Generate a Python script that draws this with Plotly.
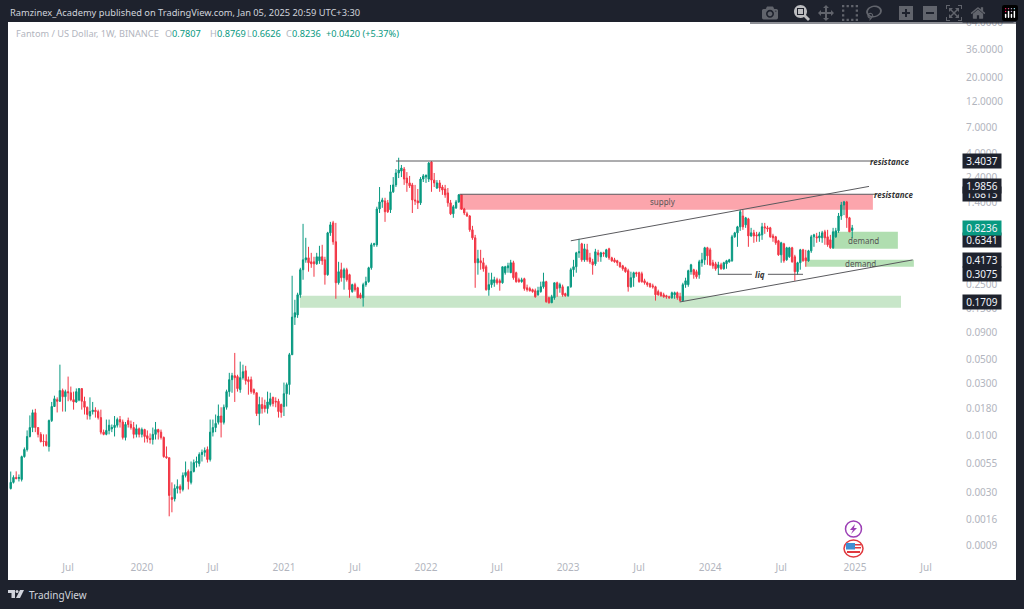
import numpy as np
import pandas as pd
import plotly.graph_objects as go

FONT = "Noto Sans"
BG_DARK = "#1E222D"
UP = "#089981"
DOWN = "#F23645"
TICK_GREY = "#B2B5BE"
LINE_GREY = "#5A5A5E"

LAST_WEEK = "2024-12-30"

opens = [
    .00326, .00372, .00413, .00404, .00396, .00642, .00747, .00985, .0119, .0163,
    .0119, .0103, .0089, .00885, .00796, .0138, .0186, .0215, .0208, .0261,
    .0229, .0255, .0249, .0215, .0205, .0213, .0272, .0208, .0183, .0152,
    .0167, .0172, .0167, .0147, .0108, .0103, .0112, .0116, .0119, .0125,
    .0141, .0134, .00965, .0138, .0127, .0119, .0103, .0116, .0103, .0114,
    .0100, .00945, .00923, .0103, .0114, .0108, .00965, .00642, .00628, .00270,
    .00262, .00327, .00341, .00320, .00431, .00469, .00372, .00469, .00566, .00554,
    .00672, .00703, .00747, .00604, .0108, .0119, .0133, .0152, .0133, .0183,
    .0255, .0329, .0358, .0351, .0266, .0343, .0397, .0329, .0329, .0266,
    .0249, .0160, .0194, .0190, .0178, .0194, .0226, .0208, .0208, .0194,
    .0186, .0244, .0296, .0558, .124, .130, .199, .339, .418, .436,
    .401, .401, .384, .410, .446, .418, .305, .741, .916, .613,
    .257, .339, .286, .339, .305, .213, .247, .231, .199, .187,
    .247, .263, .353, .575, .575, 1.23, 1.43, 1.46, 1.40, 1.21,
    1.77, 2.05, 2.64, 2.75, 2.87, 2.37, 2.14, 2.05, 1.49, 1.46,
    1.40, 2.32, 2.42, 2.32, 3.33, 2.27, 1.92, 2.14, 1.96, 1.88,
    1.73, 1.40, 1.11, 1.26, 1.43, 1.66, 1.23, 1.11, 1.06, .790,
    .667, .393, .410, .393, .361, .222, .247, .257, .274, .268,
    .257, .318, .353, .318, .393, .318, .274, .263, .280, .231,
    .227, .222, .217, .199, .213, .236, .263, .187, .168, .187,
    .257, .231, .236, .204, .195, .236, .339, .361, .485, .587,
    .418, .517, .436, .401, .384, .485, .446, .485, .446, .528,
    .436, .418, .410, .393, .368, .353, .332, .236, .286, .318,
    .318, .311, .268, .257, .252, .241, .236, .213, .208, .199,
    .195, .191, .187, .199, .208, .191, .176, .247, .247, .325,
    .339, .325, .305, .393, .418, .540, .517, .393, .384, .353,
    .376, .346, .384, .401, .410, .681, .741, .842, 1.06, .878,
    .997, .695, .741, .710, .695, .710, .842, .824, .824, .695,
    .681, .626, .465, .587, .418, .446, .540, .446, .325, .393,
    .517, .436, .410, .506, .681, .681, .667, .667, .757, .681,
    .639, .540, .681, .773, 1.06, 1.34, 1.43, 1.02, .7807,
]
highs = [
    .00468, .00432, .00470, .0044, .00656, .00780, .0112, .0154, .0174, .0177,
    .0119, .0108, .0103, .0103, .0141, .0205, .0234, .0226, .0452, .0272,
    .0266, .0351, .0284, .0255, .0273, .0273, .0266, .0229, .0186, .0226,
    .0205, .0183, .0174, .0174, .0114, .0141, .0141, .0127, .0152, .0147,
    .0152, .0141, .0134, .0147, .0138, .0134, .0127, .0119, .0119, .0116,
    .0112, .0105, .0119, .0134, .0116, .0114, .00985, .00796, .00628, .00372,
    .00356, .00396, .00356, .00459, .00579, .00489, .00579, .00604, .00642, .00703,
    .00747, .00780, .00796, .0141, .0141, .0157, .0194, .0183, .0194, .0266,
    .0380, .0380, .0580, .0365, .0482, .0452, .0441, .0351, .0351, .0273,
    .0249, .0229, .0226, .0215, .0255, .0249, .0229, .0226, .0219, .0198,
    .0309, .0309, .0580, .298, .179, .208, .353, .897, .667, .551,
    .485, .446, .485, .563, .575, .446, .757, .936, .956, .916,
    .401, .393, .353, .353, .311, .252, .257, .236, .208, .257,
    .292, .361, .600, .600, 1.29, 1.96, 1.56, 1.56, 1.49, 2.05,
    2.42, 2.87, 3.65, 3.13, 3.00, 2.69, 2.48, 2.14, 2.05, 1.88,
    2.42, 2.58, 2.53, 3.33, 3.40, 2.64, 2.27, 2.27, 2.05, 2.05,
    1.92, 1.49, 1.34, 1.49, 1.69, 1.69, 1.26, 1.16, 1.08, .860,
    .710, .517, .517, .436, .376, .318, .318, .292, .286, .280,
    .361, .368, .393, .418, .410, .325, .286, .286, .286, .247,
    .236, .227, .227, .236, .263, .318, .268, .191, .199, .257,
    .263, .257, .247, .208, .236, .353, .418, .496, .653, .600,
    .587, .587, .485, .427, .528, .517, .496, .496, .528, .540,
    .446, .436, .418, .401, .376, .361, .346, .325, .325, .325,
    .325, .325, .280, .263, .257, .252, .241, .222, .213, .208,
    .199, .195, .213, .213, .213, .208, .257, .286, .339, .384,
    .346, .339, .418, .485, .551, .551, .540, .418, .401, .401,
    .393, .401, .418, .427, .710, .757, .860, 1.21, 1.21, 1.04,
    1.02, .824, .790, .757, .757, .916, .916, .860, .842, .726,
    .695, .639, .613, .600, .551, .551, .551, .465, .401, .528,
    .528, .517, .517, .710, .726, .741, .757, .773, .790, .790,
    .710, .824, .824, 1.13, 1.43, 1.46, 1.46, 1.04, .8769,
]
lows = [
    .00320, .00363, .00396, .00379, .00379, .00628, .00715, .00965, .0108, .0108,
    .00965, .00866, .00796, .00796, .00715, .0134, .0186, .0164, .0205, .0167,
    .0167, .0208, .0208, .0174, .0201, .0208, .0174, .0157, .0141, .0141,
    .0157, .0147, .0141, .0103, .0101, .0101, .0103, .0108, .00985, .0119,
    .0119, .00923, .00905, .0119, .0114, .00945, .00965, .00965, .00965, .00866,
    .00866, .00847, .0083, .00923, .00923, .00923, .00628, .00614, .00181, .00197,
    .00248, .00294, .00294, .00307, .00413, .00320, .00356, .00459, .00510, .00521,
    .00579, .00642, .00566, .00579, .00985, .0108, .0127, .00965, .0127, .0174,
    .0229, .0249, .0205, .0255, .0249, .0329, .0296, .0239, .0244, .0239,
    .0152, .0125, .0160, .0164, .0160, .0186, .0186, .0183, .0147, .0147,
    .0152, .0186, .0239, .0558, .105, .122, .187, .274, .393, .325,
    .353, .292, .376, .384, .376, .247, .298, .695, .575, .183,
    .247, .263, .222, .263, .187, .208, .213, .187, .183, .155,
    .236, .257, .339, .551, .551, 1.13, 1.26, .936, 1.13, 1.13,
    1.73, 1.96, 2.37, 2.42, 2.05, 1.77, 1.92, 1.13, 1.34, 1.23,
    1.34, 2.18, 2.14, 2.18, 1.77, 1.96, 1.88, 1.77, 1.66, 1.56,
    1.29, 1.08, 1.02, 1.23, 1.40, 1.21, 1.08, 1.04, .757, .639,
    .231, .305, .339, .325, .217, .195, .231, .236, .247, .217,
    .252, .305, .318, .318, .274, .257, .257, .257, .217, .213,
    .213, .208, .187, .195, .208, .227, .168, .165, .168, .179,
    .191, .208, .191, .191, .191, .231, .292, .318, .436, .401,
    .401, .401, .384, .305, .368, .401, .401, .446, .436, .418,
    .401, .393, .368, .353, .332, .318, .213, .231, .236, .292,
    .257, .257, .247, .236, .231, .227, .176, .195, .191, .187,
    .183, .183, .183, .183, .179, .172, .172, .231, .236, .305,
    .280, .280, .280, .361, .376, .376, .368, .346, .332, .305,
    .339, .339, .346, .393, .401, .667, .551, .773, .790, .824,
    .551, .681, .600, .613, .613, .639, .726, .757, .667, .613,
    .575, .455, .393, .393, .410, .436, .393, .268, .305, .339,
    .401, .361, .401, .485, .551, .600, .613, .600, .575, .551,
    .528, .528, .667, .741, .976, 1.08, .824, .757, .6626,
]
closes = [
    .00372, .00413, .00404, .00412, .00642, .00747, .00985, .0119, .0163, .0119,
    .0103, .00885, .00885, .00813, .0138, .0186, .0219, .0208, .0261, .0229,
    .0255, .0249, .0215, .0205, .0255, .0272, .0208, .0183, .0157, .0167,
    .0172, .0167, .0147, .0108, .0103, .0112, .0125, .0119, .0125, .0141,
    .0134, .00965, .0127, .0127, .0119, .0103, .0116, .0103, .0114, .00985,
    .00945, .00923, .0103, .0114, .0108, .00965, .00642, .00628, .00282, .00259,
    .00327, .00341, .00320, .00431, .00459, .00379, .00469, .00566, .00579, .00672,
    .00703, .00731, .00604, .0108, .0119, .0130, .0152, .0133, .0183, .0255,
    .0329, .0358, .0343, .0272, .0343, .0389, .0322, .0315, .0255, .0249,
    .0160, .0194, .0178, .0178, .0205, .0219, .0198, .0205, .0167, .0164,
    .0244, .0296, .0558, .124, .136, .199, .339, .418, .436, .393,
    .384, .384, .446, .446, .410, .305, .741, .878, .613, .257,
    .325, .286, .339, .274, .222, .247, .222, .187, .187, .247,
    .263, .353, .575, .587, 1.23, 1.43, 1.49, 1.16, 1.16, 1.77,
    2.05, 2.64, 2.81, 2.93, 2.32, 2.14, 2.01, 1.49, 1.46, 1.40,
    2.32, 2.48, 2.53, 3.26, 2.27, 2.14, 2.14, 1.92, 1.84, 1.66,
    1.40, 1.11, 1.29, 1.43, 1.66, 1.23, 1.13, 1.06, .790, .667,
    .393, .427, .393, .346, .222, .247, .274, .274, .257, .257,
    .361, .361, .368, .393, .286, .263, .263, .274, .227, .222,
    .217, .213, .191, .217, .236, .263, .172, .168, .191, .257,
    .227, .247, .199, .195, .236, .339, .361, .485, .496, .418,
    .528, .418, .401, .376, .496, .465, .485, .475, .517, .436,
    .410, .401, .393, .361, .346, .325, .236, .286, .318, .311,
    .263, .263, .257, .247, .236, .236, .199, .199, .195, .191,
    .191, .187, .208, .208, .187, .176, .247, .268, .332, .376,
    .305, .292, .401, .418, .540, .455, .376, .368, .346, .376,
    .346, .393, .410, .418, .681, .741, .842, 1.16, .842, 1.02,
    .695, .741, .695, .695, .726, .842, .824, .807, .681, .667,
    .600, .465, .600, .410, .540, .540, .401, .325, .393, .517,
    .410, .410, .506, .681, .710, .667, .695, .741, .667, .575,
    .540, .757, .773, 1.06, 1.34, 1.43, 1.02, .757, .8236,
]

price_ticks = [64, 36, 20, 12, 7, 4, 2.4, 1.4, .25, .15, .09, .05, .03, .018, .01, .0055, .003, .0017, .00098]
price_tick_text = ["64.0000", "36.0000", "20.0000", "12.0000", "7.0000", "4.0000", "2.4000", "1.4000",
                   "0.2500", "0.1500", "0.0900", "0.0500", "0.0300", "0.0180", "0.0100", "0.0055",
                   "0.0030", "0.0016", "0.0009"]
date_ticks = ["2019-07-01", "2020-01-06", "2020-07-06", "2021-01-04", "2021-07-05", "2022-01-03", "2022-07-04",
              "2023-01-02", "2023-07-03", "2024-01-01", "2024-07-01", "2025-01-06", "2025-07-07"]
date_tick_text = ["Jul", "2020", "Jul", "2021", "Jul", "2022", "Jul", "2023", "Jul", "2024", "Jul", "2025", "Jul"]

# (label, start, end, top price, bottom price, colour)
zones = [
    ("supply", "2022-03-30", "2025-02-21", 1.6813, 1.21, "#FCA5AC"),
    ("demand", "2024-11-08", "2025-04-26", .757, .528, "#B0DEB0"),
    ("demand", "2024-09-02", "2025-06-06", .418, .361, "#B7E1B7"),
    ("base", "2021-02-14", "2025-05-04", .195, .151, "#C8E6C9"),
]
# (start, end, start price, end price)
trend_lines = [
    ("2021-10-18", "2025-02-21", 3.4037, 3.4037),
    ("2022-03-30", "2025-03-03", 1.6813, 1.6813),
    ("2023-01-09", "2025-02-11", .626, 1.9856),
    ("2023-10-15", "2025-06-03", .1709, .4173),
    ("2024-01-21", "2024-04-17", .3075, .3075),
    ("2024-05-28", "2024-08-26", .3075, .3075),
]
price_labels = [
    (3.4037, "3.4037", BG_DARK),
    (1.6813, "1.6813", BG_DARK),
    (1.9856, "1.9856", BG_DARK),
    (.6341, "0.6341", BG_DARK),
    (.8236, "0.8236", UP),
    (.4173, "0.4173", BG_DARK),
    (.3075, "0.3075", BG_DARK),
    (.1709, "0.1709", BG_DARK),
]
chart_notes = [
    ("2023-09-01", 1.44, "supply", False),
    ("2025-01-27", .635, "demand", False),
    ("2025-01-19", .39, "demand", False),
    ("2024-05-07", .3075, "liq", True),
    ("2025-04-05", 3.38, "resistance", True),
    ("2025-04-14", 1.66, "resistance", True),
]
legend_bits = [
    (14, "Fantom / US Dollar, 1W, BINANCE", TICK_GREY),
    (163, "O", TICK_GREY), (170, "0.7807", UP),
    (208, "H", TICK_GREY), (215, "0.8769", UP),
    (245, "L", TICK_GREY), (250, "0.6626", UP),
    (284, "C", TICK_GREY), (290, "0.8236", UP),
    (324, "+0.0420 (+5.37%)", UP),
]

weeks = pd.date_range(end=LAST_WEEK, periods=len(closes), freq="7D")

PLOT_LEFT, PLOT_RIGHT, PLOT_TOP, PLOT_BOTTOM = 8, 965, 22, 560


def paper_x(px):
    return (px - PLOT_LEFT) / (PLOT_RIGHT - PLOT_LEFT)


def paper_y(py):
    return (PLOT_BOTTOM - py) / (PLOT_BOTTOM - PLOT_TOP)


def paper_path(points):
    parts = [f"{'M' if i == 0 else 'L'}{paper_x(x):.5f},{paper_y(y):.5f}" for i, (x, y) in enumerate(points)]
    return " ".join(parts) + " Z"


def paper_shape(kind, x0, y0, x1, y1, **kwargs):
    return dict(type=kind, xref="paper", yref="paper", x0=paper_x(x0), x1=paper_x(x1),
                y0=paper_y(y0), y1=paper_y(y1), **kwargs)


fig = go.Figure()
fig.add_candlestick(
    x=weeks,
    open=opens,
    high=highs,
    low=lows,
    close=closes,
    whiskerwidth=0,
    increasing=dict(line=dict(color=UP, width=1), fillcolor=UP),
    decreasing=dict(line=dict(color=DOWN, width=1), fillcolor=DOWN),
    showlegend=False,
)

shapes = [paper_shape("rect", 8, 22, 1016, 580, fillcolor="white", line_width=0, layer="below")]
for _, start, end, top, bottom, colour in zones:
    shapes.append(dict(type="rect", xref="x", yref="y", x0=start, x1=end, y0=bottom, y1=top,
                       fillcolor=colour, line_width=0, layer="below"))
for start, end, p0, p1 in trend_lines:
    shapes.append(dict(type="line", xref="x", yref="y", x0=start, x1=end, y0=p0, y1=p1,
                       line=dict(color=LINE_GREY, width=1)))

# calendar icons under the last bars
shapes += [
    paper_shape("circle", 845.5, 521, 861.5, 537, fillcolor="white", line=dict(color="#9C3FB5", width=1.5)),
    dict(type="path", xref="paper", yref="paper", fillcolor="#9C3FB5", line_width=0,
         path=paper_path([(855, 524), (850, 530), (853, 530), (851, 534), (857, 528), (854, 528)])),
    paper_shape("circle", 844, 540, 863, 557, fillcolor="white", line=dict(color="#E0393E", width=1.5)),
    paper_shape("rect", 846, 543, 855, 549.5, fillcolor="#3F8FD2", line_width=0),
    paper_shape("rect", 855, 544, 861, 545.5, fillcolor="#E0393E", line_width=0),
    paper_shape("rect", 855, 547, 861, 548.5, fillcolor="#E0393E", line_width=0),
    paper_shape("rect", 847, 551, 860, 553, fillcolor="#E0393E", line_width=0),
]
# TradingView mark in the footer
shapes += [
    dict(type="path", xref="paper", yref="paper", fillcolor="#D1D4DC", line_width=0,
         path=paper_path([(8, 590), (15, 590), (15, 598), (11.5, 598), (11.5, 593), (8, 593)])),
    paper_shape("circle", 15.5, 590, 18.5, 593, fillcolor="#D1D4DC", line_width=0),
    dict(type="path", xref="paper", yref="paper", fillcolor="#D1D4DC", line_width=0,
         path=paper_path([(20, 590), (24, 590), (20, 598), (16, 598)])),
]

annotations = [
    dict(xref="paper", yref="paper", x=paper_x(8), y=paper_y(12), xanchor="left", yanchor="middle", showarrow=False,
         text="Ramzinex_Academy published on TradingView.com, Jan 05, 2025 20:59 UTC+3:30",
         font=dict(family=FONT, size=9.3, color="#D1D4DC")),
    dict(xref="paper", yref="paper", x=paper_x(27), y=paper_y(595), xanchor="left", yanchor="middle", showarrow=False,
         text="TradingView", font=dict(family=FONT, size=10, color="#D1D4DC")),
    # the top tick sits half under the frame
    dict(xref="paper", yref="paper", x=paper_x(962), y=paper_y(14), xanchor="left", yanchor="middle", showarrow=False,
         text=" ", width=50, height=16, borderpad=0, bgcolor=BG_DARK, font=dict(family=FONT, size=8)),
]
for px, text, colour in legend_bits:
    annotations.append(dict(xref="paper", yref="paper", x=paper_x(px), y=paper_y(34), xanchor="left",
                            yanchor="middle", showarrow=False, text=text,
                            font=dict(family=FONT, size=9.2, color=colour)))
for date, price, text, bold in chart_notes:
    label = f"<b><i>{text}</i></b>" if bold else text
    annotations.append(dict(x=date, y=np.log10(price), xref="x", yref="y", showarrow=False, text=label,
                            font=dict(family=FONT, size=8, color="#333333" if bold else "#555555")))
for price, text, colour in price_labels:
    annotations.append(dict(xref="paper", yref="y", x=paper_x(962), y=np.log10(price), xanchor="left",
                            yanchor="middle", showarrow=False, text=text, width=38, height=14, borderpad=0,
                            bgcolor=colour, font=dict(family=FONT, size=10, color="#F0F3FA")))

fig.update_layout(
    width=1024,
    height=609,
    margin=dict(l=PLOT_LEFT, r=1024 - PLOT_RIGHT, t=PLOT_TOP, b=609 - PLOT_BOTTOM, pad=0),
    paper_bgcolor=BG_DARK,
    plot_bgcolor="white",
    showlegend=False,
    xaxis=dict(
        type="date",
        range=["2019-01-28", "2025-10-15"],
        rangeslider=dict(visible=False),
        tickmode="array",
        tickvals=date_ticks,
        ticktext=date_tick_text,
        showgrid=False,
        zeroline=False,
        showline=False,
        ticks="",
        tickangle=0,
        tickfont=dict(family=FONT, size=10, color=TICK_GREY),
    ),
    yaxis=dict(
        type="log",
        side="right",
        range=[-3.145, 1.813],
        tickmode="array",
        tickvals=price_ticks,
        ticktext=price_tick_text,
        showgrid=False,
        zeroline=False,
        showline=False,
        ticks="",
        tickfont=dict(family=FONT, size=10, color=TICK_GREY),
    ),
    shapes=shapes,
    annotations=annotations,
)

fig.write_html("out.html", post_script="document.body.style.margin = '0';")
